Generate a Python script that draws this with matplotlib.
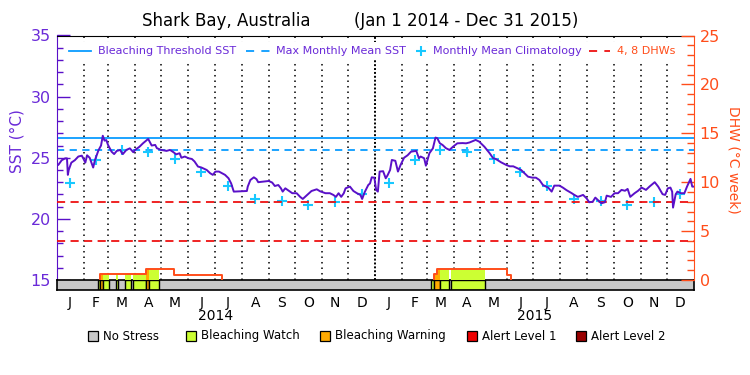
import numpy as np
import matplotlib
matplotlib.use('Agg')
import matplotlib.pyplot as plt
from matplotlib.patches import Rectangle
from matplotlib.lines import Line2D

# ---------------- data ----------------
title_left = "Shark Bay, Australia"
title_right = "(Jan 1 2014 - Dec 31 2015)"

# daily SST (day index from Jan 1 2014)
sst_day = [0, 2, 6, 10, 12, 13, 14, 17, 21, 25, 29, 31, 33, 35, 38, 42, 44, 48, 51, 53,
           55, 57, 59, 63, 66, 69, 73, 75, 76, 80, 84, 88, 90, 95, 99, 105, 109, 113, 115, 120,
           126, 130, 134, 137, 141, 143, 147, 151, 155, 158, 162, 166, 172, 176, 179, 182, 186, 189, 193, 197,
           200, 203, 210, 218, 219, 222, 226, 229, 231, 237, 243, 247, 250, 254, 257, 259, 262, 266, 270, 275,
           279, 282, 287, 292, 298, 302, 308, 313, 317, 320, 323, 326, 329, 331, 336, 340, 344, 348, 350, 353,
           357, 359, 361, 364, 366, 368, 370, 374, 377, 379, 382, 384, 388, 391, 394, 398, 402, 406, 412, 415,
           417, 421, 423, 427, 431, 434, 436, 439, 442, 446, 450, 454, 459, 465, 469, 473, 480, 484, 490, 496,
           500, 503, 509, 515, 519, 523, 528, 532, 536, 540, 545, 549, 553, 557, 563, 567, 570, 576, 580, 584,
           590, 593, 597, 603, 607, 610, 614, 617, 622, 624, 628, 630, 635, 639, 643, 647, 651, 654, 657, 662,
           666, 670, 675, 679, 685, 689, 694, 697, 700, 703, 705, 706, 709, 711, 715, 719, 722, 726, 728, 730]
sst_val = [24.47, 24.41, 24.8, 24.95, 24.95, 23.6, 24.0, 24.6, 24.8, 25.1, 25.17, 24.9, 24.6, 25.2, 25.0, 24.2, 24.8, 25.6, 26.0, 26.8,
           26.4, 26.45, 26.05, 25.5, 25.3, 25.56, 25.64, 25.37, 25.3, 25.64, 25.77, 25.45, 25.64, 25.9, 26.18, 26.54, 26.0, 26.05, 25.78, 25.64,
           25.56, 25.64, 25.45, 25.28, 25.37, 25.0, 25.1, 24.96, 24.9, 24.7, 24.28, 24.2, 24.0, 23.73, 23.6, 23.87, 23.87, 23.75, 23.6, 23.32,
           22.9, 22.23, 22.25, 22.28, 22.64, 23.18, 23.4, 23.25, 23.0, 23.05, 23.1, 22.97, 22.69, 22.77, 22.5, 22.23, 22.5, 22.3, 22.1, 22.1,
           21.8, 21.63, 21.96, 22.28, 22.42, 22.25, 22.1, 22.1, 21.96, 21.8, 22.1, 21.8, 22.1, 22.5, 22.64, 22.28, 22.1, 21.96, 21.63, 22.2,
           22.77, 22.9, 23.4, 23.37, 22.37, 22.23, 23.87, 23.9, 23.32, 23.55, 24.0, 24.82, 24.75, 23.87, 24.41, 25.0, 25.2, 25.5, 25.56, 24.96,
           25.1, 24.96, 24.35, 25.37, 25.77, 26.65, 26.6, 26.18, 26.05, 25.78, 25.64, 25.9, 26.18, 26.2, 26.18, 26.25, 26.46, 26.32, 25.9, 25.37,
           24.96, 24.9, 24.63, 24.41, 24.3, 24.3, 24.13, 24.0, 23.73, 23.45, 23.37, 23.37, 23.18, 22.77, 22.56, 22.23, 22.72, 22.72, 22.55, 22.35,
           22.1, 21.96, 21.8, 21.96, 21.68, 21.36, 21.4, 21.74, 21.4, 21.28, 21.36, 21.9, 21.8, 22.1, 22.1, 22.37, 22.3, 22.45, 21.8, 22.1,
           22.3, 22.56, 22.37, 22.64, 23.0, 22.64, 22.02, 21.96, 22.5, 22.56, 22.23, 20.92, 22.0, 22.23, 22.1, 22.1, 22.64, 23.27, 22.64, 22.64]

clim_vals = [22.97, 24.8, 25.65, 25.47, 24.87, 23.87, 22.65, 21.66, 21.46, 21.17, 21.34, 22.0]
mmm_sst = 25.63
threshold_sst = 26.63
dhw_ref = [4, 8]

# DHW step series (value holds from day until next day)
dhw_day = [0, 49.8, 102.4, 134.4, 190, 431.9, 436, 515.4, 520]
dhw_val = [0, 0.64, 1.16, 0.48, 0, 0.6, 1.12, 0.48, 0]

# stress level segments: 1 = Watch, 2 = Warning
alert_start = [47.8, 49.8, 53.6, 68.2, 78.4, 87.9, 102.4, 106.2, 428.5, 432, 438.8, 452]
alert_end = [49.8, 53.6, 60.4, 70.0, 85.2, 102.4, 106.2, 117.0, 432, 438.8, 449, 491]
alert_level = [1, 2, 1, 1, 1, 1, 2, 1, 1, 2, 1, 1]

month_len = [31, 28, 31, 30, 31, 30, 31, 31, 30, 31, 30, 31]
month_letters = ['J', 'F', 'M', 'A', 'M', 'J', 'J', 'A', 'S', 'O', 'N', 'D']
years = ['2014', '2015']

legend_top = ['Bleaching Threshold SST', 'Max Monthly Mean SST', 'Monthly Mean Climatology', '4, 8 DHWs']
status_names = ['No Stress', 'Bleaching Watch', 'Bleaching Warning', 'Alert Level 1', 'Alert Level 2']
status_colors = ['#c8c8c8', '#ccff33', '#ffaa00', '#ee0000', '#990000']

# ---------------- style ----------------
PURPLE = '#5a10c8'
PURPLE_T = '#6a2ad8'
ORANGE = '#ff4d1a'
BLUE = '#0a9cff'
CYAN = '#18c8ff'
RED = '#ee1111'
W, H = 750, 375
plt.rcParams['font.family'] = ['DejaVu Sans']


def fx(px):
    return px / W


def fy(py):
    return 1 - py / H


fig = plt.figure(figsize=(7.5, 3.75), dpi=100)
x0, x1, ytop, ybot, ysb = 56.5, 694.0, 35.5, 280.0, 290.0
ax = fig.add_axes([fx(x0), fy(ybot), fx(x1 - x0), (ybot - ytop) / H])
sax = fig.add_axes([fx(x0), fy(ysb), fx(x1 - x0), (ysb - ybot) / H])
ax2 = ax.twinx()

ndays = 730
ax.set_xlim(0, ndays)
ax.set_ylim(15, 35)
ax2.set_ylim(0, 25)

month_start = np.concatenate([[0], np.cumsum(month_len * 2)])
month_mid = month_start[:-1] + np.array(month_len * 2) / 2.0

# month boundary dotted lines
for d in month_start[1:-1]:
    if d == 365:
        ax.axvline(d, color='k', ls=(0, (1, 1)), lw=1.4, zorder=1)
    else:
        ax.axvline(d, color='k', ls=(0, (1, 2.6)), lw=1.1, zorder=1)

# white band behind the legend row
ax.add_patch(Rectangle((0.004, (ybot - 60) / (ybot - ytop)), 0.99, (60 - 42) / (ybot - ytop),
                       transform=ax.transAxes, facecolor='white', edgecolor='none', zorder=1.5))

# reference lines
ax.axhline(threshold_sst, color=BLUE, lw=1.3, zorder=2)
ax.axhline(mmm_sst, color=BLUE, lw=1.3, ls=(0, (4, 3)), zorder=2)
for lv in dhw_ref:
    ax2.axhline(lv, color=RED, lw=1.3, ls=(0, (4.5, 3)), zorder=2)

# climatology crosses
ax.plot(month_mid, clim_vals * 2, ls='none', marker='+', ms=7, mew=1.5, color=CYAN, zorder=4)

# DHW step function helper
dd = np.array(dhw_day)
dv = np.array(dhw_val)


def dhw_at(t):
    i = np.searchsorted(dd, t, side='right') - 1
    return dv[max(i, 0)]


# alert fills above the bar
for s, e, lvl in zip(alert_start, alert_end, alert_level):
    xs = sorted([s, e] + [d for d in dhw_day if s < d < e])
    ys = [dhw_at(x) for x in xs]
    ax2.fill_between(xs, 0, ys, step='post', color=status_colors[lvl], lw=0, zorder=1)

# DHW line, episode by episode
ep_x, ep_y = [], []
for d, v in zip(dhw_day, dhw_val):
    if v > 0:
        if not ep_x:
            ep_x.append(d)
            ep_y.append(0)
        ep_x.append(d)
        ep_y.append(v)
    elif ep_x:
        ep_x.append(d)
        ep_y.append(v)
        ax2.plot(ep_x, ep_y, drawstyle='steps-post', color=ORANGE, lw=1.4, zorder=3)
        ep_x, ep_y = [], []

# SST line
ax2.plot(sst_day, (np.array(sst_val) - 15) * 1.25, color=PURPLE, lw=1.4, zorder=6)

# axes styling
ax.spines['bottom'].set_visible(False)
ax.spines['right'].set_visible(False)
ax.spines['left'].set_color(PURPLE)
ax.spines['top'].set_color('black')
for sp in ['left', 'top', 'bottom']:
    ax2.spines[sp].set_visible(False)
ax2.spines['right'].set_color(ORANGE)
ax.tick_params(axis='x', bottom=False, labelbottom=False, top=False)
ax2.tick_params(axis='x', bottom=False, labelbottom=False, top=False)

ax.set_yticks([15, 20, 25, 30, 35])
ax.set_yticks(np.arange(15, 36, 1), minor=True)
ax.tick_params(axis='y', which='major', direction='in', length=9.5, width=1, color=PURPLE,
               labelcolor=PURPLE_T, labelsize=11.5, pad=4)
ax.tick_params(axis='y', which='minor', direction='in', length=4.5, width=1, color=PURPLE)
ax2.set_yticks([0, 5, 10, 15, 20, 25])
ax2.set_yticks(np.arange(0, 26, 1), minor=True)
ax2.tick_params(axis='y', which='major', direction='in', length=9.5, width=1, color=ORANGE,
                labelcolor=ORANGE, labelsize=11.5, pad=4)
ax2.tick_params(axis='y', which='minor', direction='in', length=5, width=1, color=ORANGE)

# status bar
sax.set_xlim(0, ndays)
sax.set_ylim(0, 1)
sax.set_facecolor(status_colors[0])
for s, e, lvl in zip(alert_start, alert_end, alert_level):
    sax.axvspan(s, e, facecolor=status_colors[lvl], edgecolor='k', lw=1.0)
for sp in sax.spines.values():
    sp.set_color('k')
    sp.set_linewidth(1.2)
sax.set_yticks([])
sax.set_xticks(month_mid)
sax.set_xticklabels(month_letters * 2)
sax.tick_params(axis='x', length=0, pad=4, labelsize=10)

# year labels
fig.text(fx(216), fy(316), years[0], ha='center', va='center', fontsize=10)
fig.text(fx(535), fy(316), years[1], ha='center', va='center', fontsize=10)

# title
fig.text(fx(311), fy(21), title_left, ha='right', va='center', fontsize=12)
fig.text(fx(354), fy(21), title_right, ha='left', va='center', fontsize=12)

# axis labels
fig.text(fx(17), fy(141), 'SST (°C)', rotation=90, ha='center', va='center', color=PURPLE_T, fontsize=11)
fig.text(fx(733), fy(160), 'DHW (°C week)', rotation=-90, ha='center', va='center', color=ORANGE, fontsize=10)

# top legend
ly = fy(51)
LFS = 8.0
fig.add_artist(Line2D([fx(69), fx(91)], [ly, ly], color=BLUE, lw=1.3))
fig.text(fx(98), ly, legend_top[0], color=PURPLE_T, fontsize=LFS, va='center')
fig.add_artist(Line2D([fx(246), fx(270)], [ly, ly], color=BLUE, lw=1.3, ls=(0, (4.5, 4))))
fig.text(fx(276.5), ly, legend_top[1], color=PURPLE_T, fontsize=LFS, va='center')
fig.add_artist(Line2D([fx(421)], [ly], color=CYAN, marker='+', ms=7, mew=1.5, ls='none'))
fig.text(fx(433), ly, legend_top[2], color=PURPLE_T, fontsize=LFS, va='center')
fig.add_artist(Line2D([fx(588.5), fx(610)], [ly, ly], color=RED, lw=1.3, ls=(0, (4.5, 4))))
fig.text(fx(617), ly, legend_top[3], color=ORANGE, fontsize=LFS, va='center')

# bottom legend
box_x = [88, 186, 320, 466.5, 576]
txt_x = [103, 201, 335, 482, 591]
by = 336
for bx, tx, name, col in zip(box_x, txt_x, status_names, status_colors):
    fig.add_artist(Rectangle((fx(bx), fy(by + 5)), fx(10), 10 / H, facecolor=col, edgecolor='k', lw=0.9))
    fig.text(fx(tx), fy(by), name, fontsize=8.5, va='center', ha='left')

fig.savefig('out.png', dpi=100)
